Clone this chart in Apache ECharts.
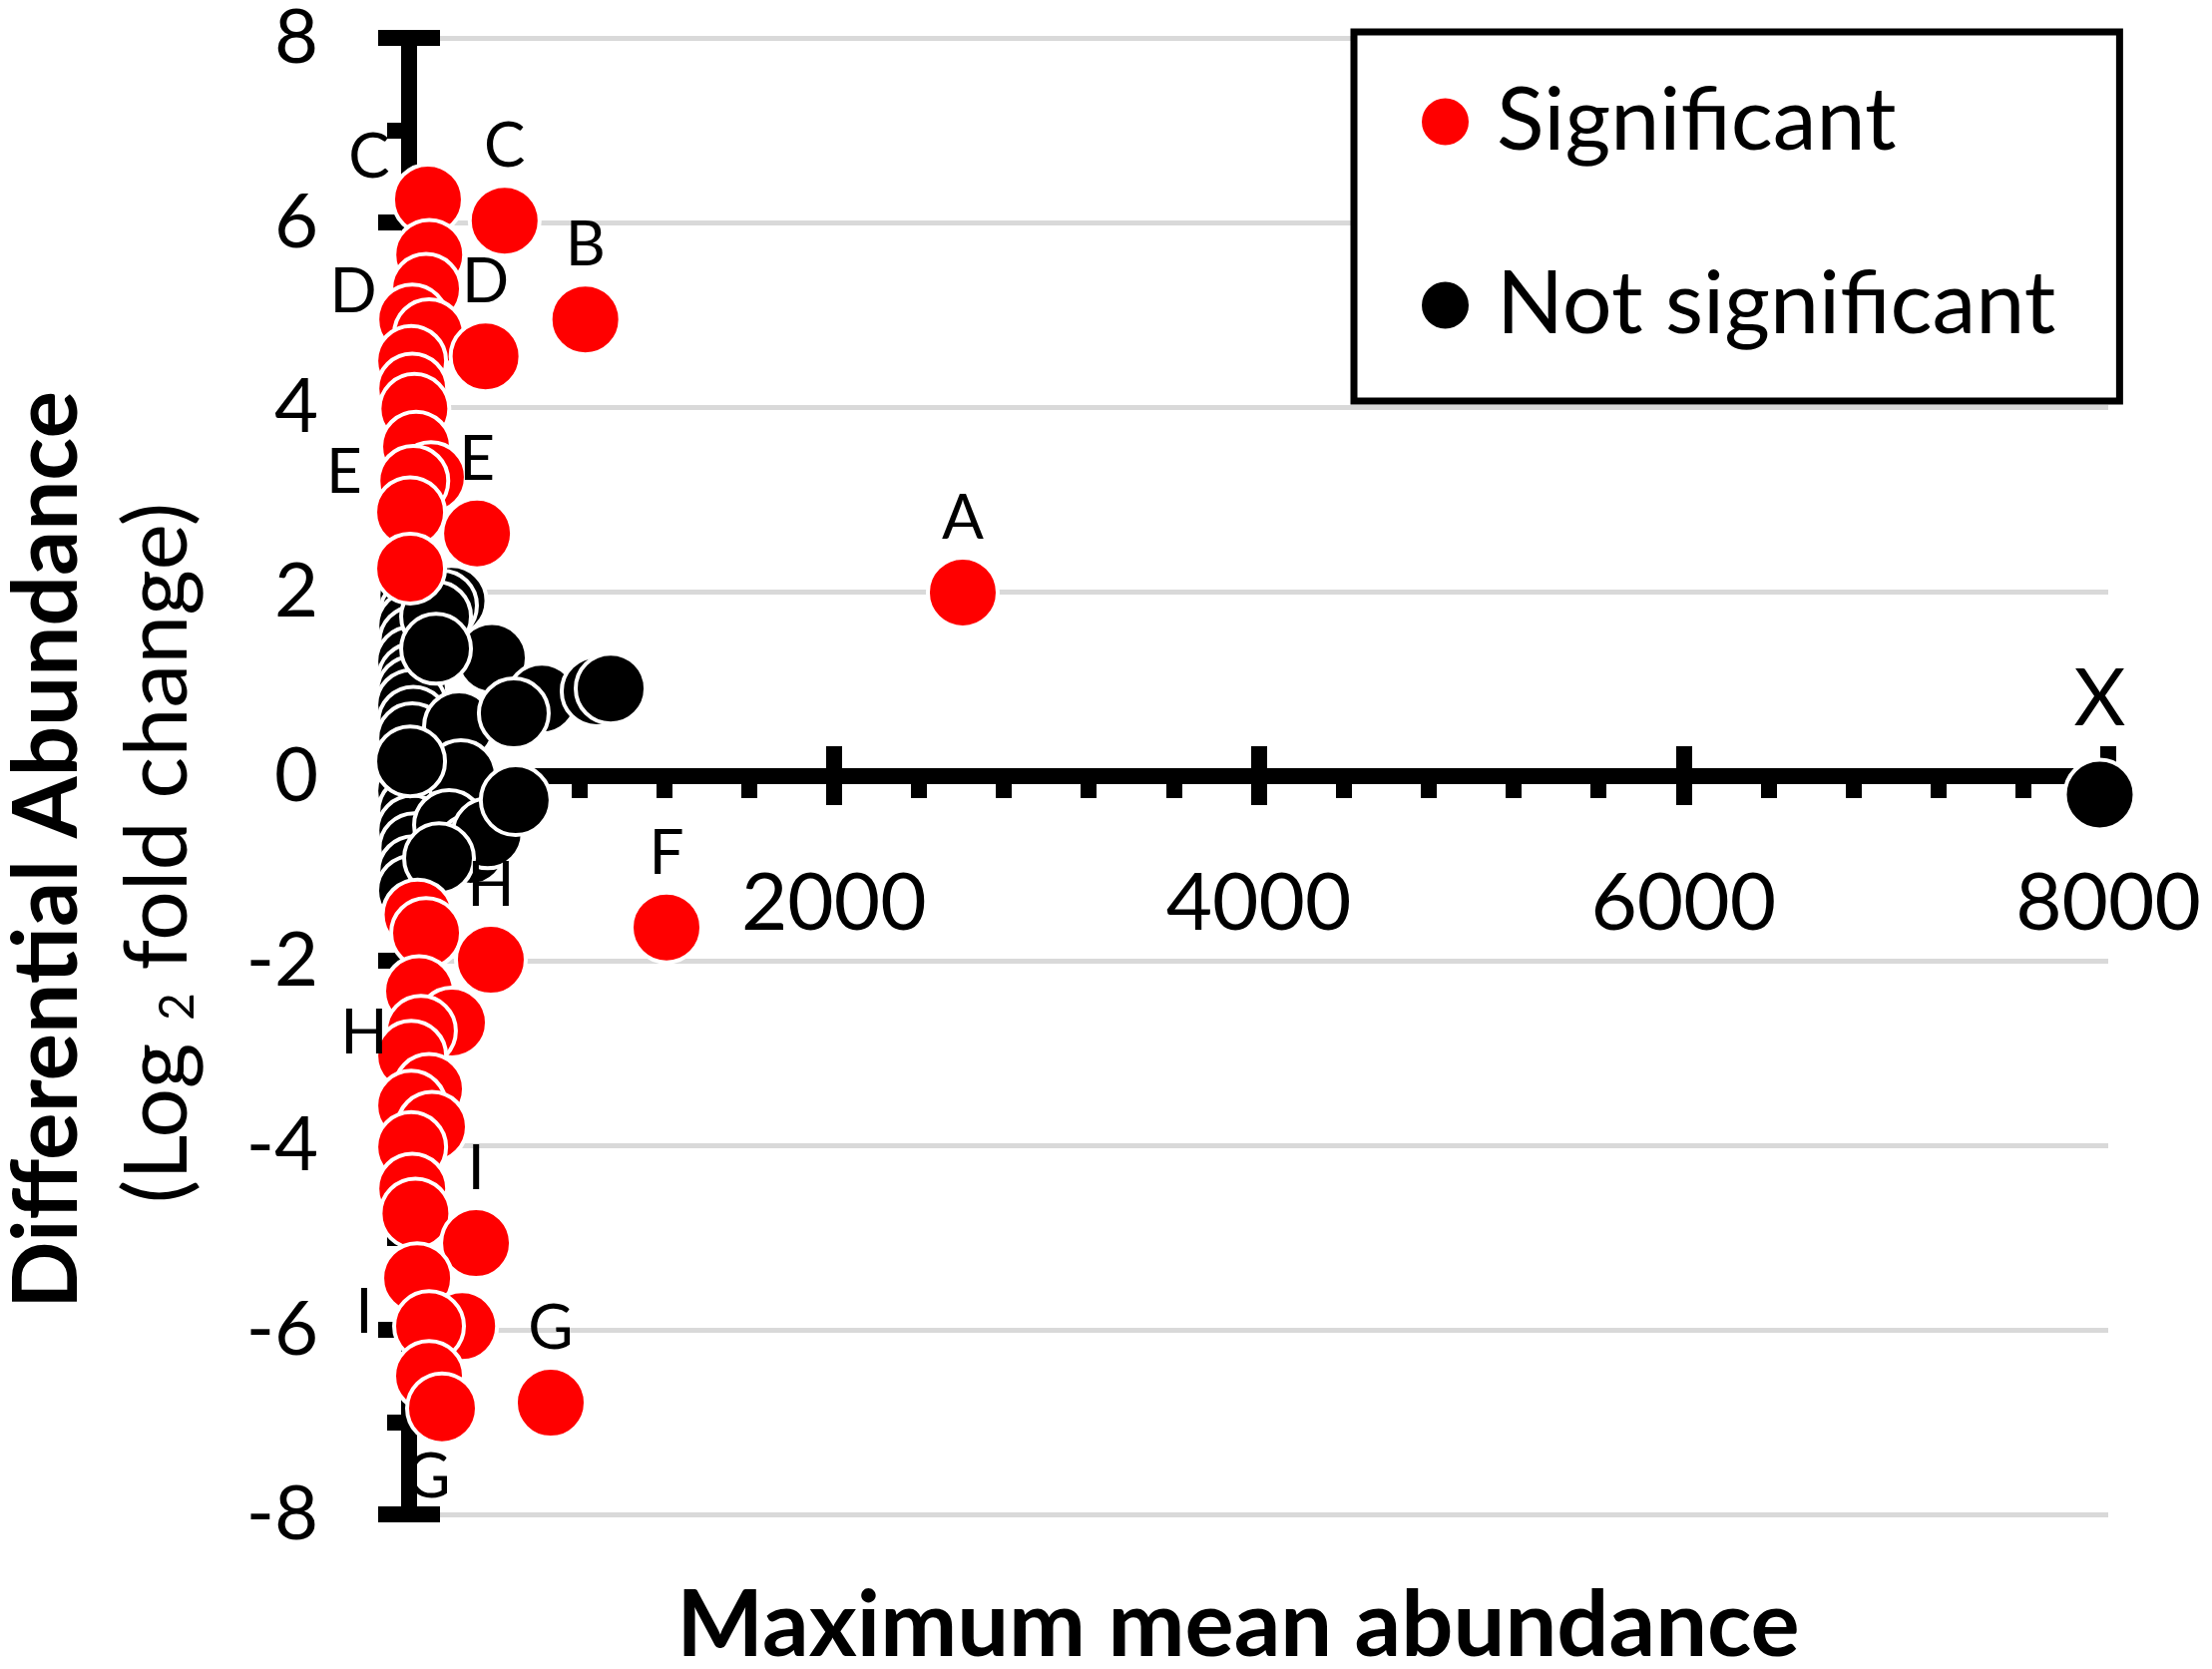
<!DOCTYPE html>
<html>
<head>
<meta charset="utf-8" />
<title>Differential abundance</title>
<script src="https://cdn.jsdelivr.net/npm/echarts@6/dist/echarts.min.js"></script>
<style>
	* {
		margin: 0;
		padding: 0;
	}
	html, body {
		background: #fff;
	}
	#main {
		width: 2217px;
		height: 1673px;
	}
</style>
</head>
<body>
<div id="main"></div>
<script>
// [max mean abundance, log2 fold change, letter above, letter beside]
var sigPoints = [
	[89, 6.25, '', 'C'],
	[450, 6.02, 'C', ''],
	[95, 5.65, '', ''],
	[80, 5.28, '', 'D'],
	[830, 4.95, 'B', ''],
	[15, 4.95, '', ''],
	[94, 4.79, '', ''],
	[360, 4.55, 'D', ''],
	[10, 4.5, '', ''],
	[15, 4.2, '', ''],
	[25, 3.98, '', ''],
	[33, 3.57, '', ''],
	[103, 3.24, '', 'E'],
	[20, 3.2, '', ''],
	[5, 2.86, '', ''],
	[320, 2.63, 'E', ''],
	[5, 2.25, '', ''],
	[2607, 1.99, 'A', ''],
	[40, -1.5, '', ''],
	[1212, -1.64, 'F', ''],
	[80, -1.7, '', ''],
	[385, -1.99, 'H', ''],
	[47, -2.33, '', ''],
	[202, -2.67, '', ''],
	[56, -2.76, '', 'H'],
	[10, -3.03, '', ''],
	[94, -3.39, '', ''],
	[10, -3.57, '', ''],
	[108, -3.8, '', ''],
	[10, -4.02, '', ''],
	[15, -4.47, '', ''],
	[30, -4.74, '', ''],
	[315, -5.06, 'I', ''],
	[38, -5.44, '', ''],
	[250, -5.96, '', ''],
	[94, -5.96, '', 'I'],
	[94, -6.5, '', ''],
	[667, -6.79, 'G', ''],
	[155, -6.85, '', 'G']
];

var notSigPoints = [
	[20, 1.96, '', ''],
	[30, 1.78, '', ''],
	[15, 1.63, '', ''],
	[25, 1.46, '', ''],
	[10, 1.24, '', ''],
	[20, 1.06, '', ''],
	[15, 0.92, '', ''],
	[10, 0.77, '', ''],
	[20, 0.59, '', ''],
	[15, 0.41, '', ''],
	[10, -0.16, '', ''],
	[20, -0.38, '', ''],
	[15, -0.59, '', ''],
	[25, -0.78, '', ''],
	[20, -1.03, '', ''],
	[14, -1.24, '', ''],
	[200, 1.9, '', ''],
	[155, 1.85, '', ''],
	[127, 1.73, '', ''],
	[390, 1.28, '', ''],
	[625, 0.84, '', ''],
	[883, 0.92, '', ''],
	[235, 0.54, '', ''],
	[244, 0.01, '', ''],
	[188, -0.53, '', ''],
	[290, -0.8, '', ''],
	[370, -0.62, '', ''],
	[141, -0.89, '', ''],
	[127, 1.38, '', ''],
	[493, 0.68, '', ''],
	[949, 0.95, '', ''],
	[5, 0.16, '', ''],
	[502, -0.26, '', ''],
	[7960, -0.2, 'X', '']
];

var seriesNames = ['Significant', 'Not significant'];
var seriesColors = ['#ff0000', '#000000'];

// where the side letters sit relative to their dot (px)
var sideOffsets = {
	C: [-59, -42],
	D: [-73, 3],
	E: [-87, -4],
	H: [-57, 3],
	I: [-65, -13],
	G: [-14, 69]
};

var FONT = 'Lato, "Open Sans", sans-serif';
var GRID_H = 1480;

function buildData(points) {
	return points.map(function(p) {
		var item = { value: [p[0], p[1]] };
		if (p[2]) {
			var big = p[2] === 'X';
			item.label = {
				show: true,
				position: 'top',
				distance: big ? 18 : 6,
				formatter: p[2],
				color: '#000',
				fontSize: big ? 80 : 62,
				fontFamily: FONT
			};
		} else if (p[3]) {
			item.label = {
				show: true,
				position: 'inside',
				offset: sideOffsets[p[3]],
				formatter: p[3],
				color: '#000',
				fontSize: 62,
				fontFamily: FONT
			};
		}
		return item;
	});
}

var blackLine = { color: '#000', width: 16 };

var myChart = echarts.init(document.getElementById('main'));
myChart.setOption({
	animation: false,
	backgroundColor: '#fff',
	grid: {
		left: 410,
		top: 38,
		width: 1703,
		height: GRID_H,
		containLabel: false,
		outerBoundsMode: 'none'
	},
	legend: {
		data: seriesNames,
		orient: 'vertical',
		left: 1357,
		top: 32,
		icon: 'circle',
		itemWidth: 47,
		itemHeight: 47,
		itemGap: 94,
		selectedMode: false,
		padding: [45, 64, 51, 68],
		borderColor: '#000',
		borderWidth: 7,
		backgroundColor: '#fff',
		itemStyle: { borderWidth: 0 },
		textStyle: {
			fontFamily: FONT,
			fontSize: 88,
			lineHeight: 90,
			color: '#000',
			padding: [0, 0, 0, 23]
		}
	},
	// the x axis crosses y = 0, which is the middle of the plot (-8..8)
	xAxis: [{
		type: 'value',
		min: 0,
		max: 8000,
		interval: 2000,
		position: 'bottom',
		offset: -GRID_H / 2,
		z: 1,
		axisLine: { show: true, onZero: false, lineStyle: blackLine },
		axisTick: { show: true, inside: false, length: 29, lineStyle: blackLine },
		minorTick: { show: true, splitNumber: 5, length: 22, lineStyle: blackLine },
		axisLabel: {
			show: true,
			margin: 88,
			showMinLabel: false,
			fontSize: 80,
			fontFamily: FONT,
			color: '#000',
			formatter: function(v) { return String(v); }
		},
		splitLine: { show: false },
		minorSplitLine: { show: false }
	}, {
		// upper half of the crossing major ticks
		type: 'value',
		min: 0,
		max: 8000,
		interval: 2000,
		position: 'bottom',
		offset: -GRID_H / 2,
		z: 1,
		axisLine: { show: false, onZero: false },
		axisTick: { show: true, inside: true, length: 30, lineStyle: blackLine },
		axisLabel: { show: false },
		splitLine: { show: false }
	}],
	yAxis: [{
		type: 'value',
		min: -8,
		max: 8,
		interval: 2,
		position: 'left',
		z: 1,
		axisLine: { show: true, onZero: false, lineStyle: blackLine },
		axisTick: { show: true, inside: false, length: 31, lineStyle: blackLine },
		minorTick: { show: true, splitNumber: 2, length: 22, lineStyle: blackLine },
		axisLabel: {
			show: true,
			margin: 91,
			fontSize: 76,
			fontFamily: FONT,
			color: '#000'
		},
		splitLine: { show: false }
	}, {
		type: 'value',
		min: -8,
		max: 8,
		interval: 2,
		position: 'left',
		z: 1,
		axisLine: { show: false, onZero: false },
		axisTick: { show: true, inside: true, length: 31, lineStyle: blackLine },
		axisLabel: { show: false },
		splitLine: { show: false }
	}, {
		// gridlines, kept under the axes
		type: 'value',
		min: -8,
		max: 8,
		interval: 2,
		position: 'left',
		z: 0,
		axisLine: { show: false, onZero: false },
		axisTick: { show: false },
		axisLabel: { show: false },
		splitLine: { show: true, lineStyle: { color: '#d9d9d9', width: 5 } }
	}],
	graphic: [{
		type: 'text',
		x: 1241,
		y: 1630,
		style: {
			text: 'Maximum mean abundance',
			font: 'bold 92px ' + FONT,
			fill: '#000',
			align: 'center',
			verticalAlign: 'middle'
		}
	}, {
		type: 'text',
		x: 48,
		y: 852,
		rotation: Math.PI / 2,
		style: {
			text: 'Differential Abundance',
			font: 'bold 89px ' + FONT,
			fill: '#000',
			align: 'center',
			verticalAlign: 'middle'
		}
	}, {
		type: 'text',
		x: 159,
		y: 855,
		rotation: Math.PI / 2,
		style: {
			text: '{r|(Log }{s|2}{r| fold change)}',
			align: 'center',
			verticalAlign: 'middle',
			rich: {
				r: { fontFamily: FONT, fontSize: 88, color: '#000' },
				s: { fontFamily: FONT, fontSize: 48, color: '#000', verticalAlign: 'bottom' }
			}
		}
	}],
	series: [{
		name: seriesNames[0],
		type: 'scatter',
		xAxisIndex: 0,
		yAxisIndex: 0,
		symbol: 'circle',
		symbolSize: 70,
		z: 3,
		itemStyle: { color: seriesColors[0], borderColor: '#fff', borderWidth: 4, opacity: 1 },
		data: buildData(sigPoints)
	}, {
		name: seriesNames[1],
		type: 'scatter',
		xAxisIndex: 0,
		yAxisIndex: 0,
		symbol: 'circle',
		symbolSize: 70,
		z: 2,
		itemStyle: { color: seriesColors[1], borderColor: '#fff', borderWidth: 4, opacity: 1 },
		data: buildData(notSigPoints)
	}]
});
</script>
</body>
</html>
